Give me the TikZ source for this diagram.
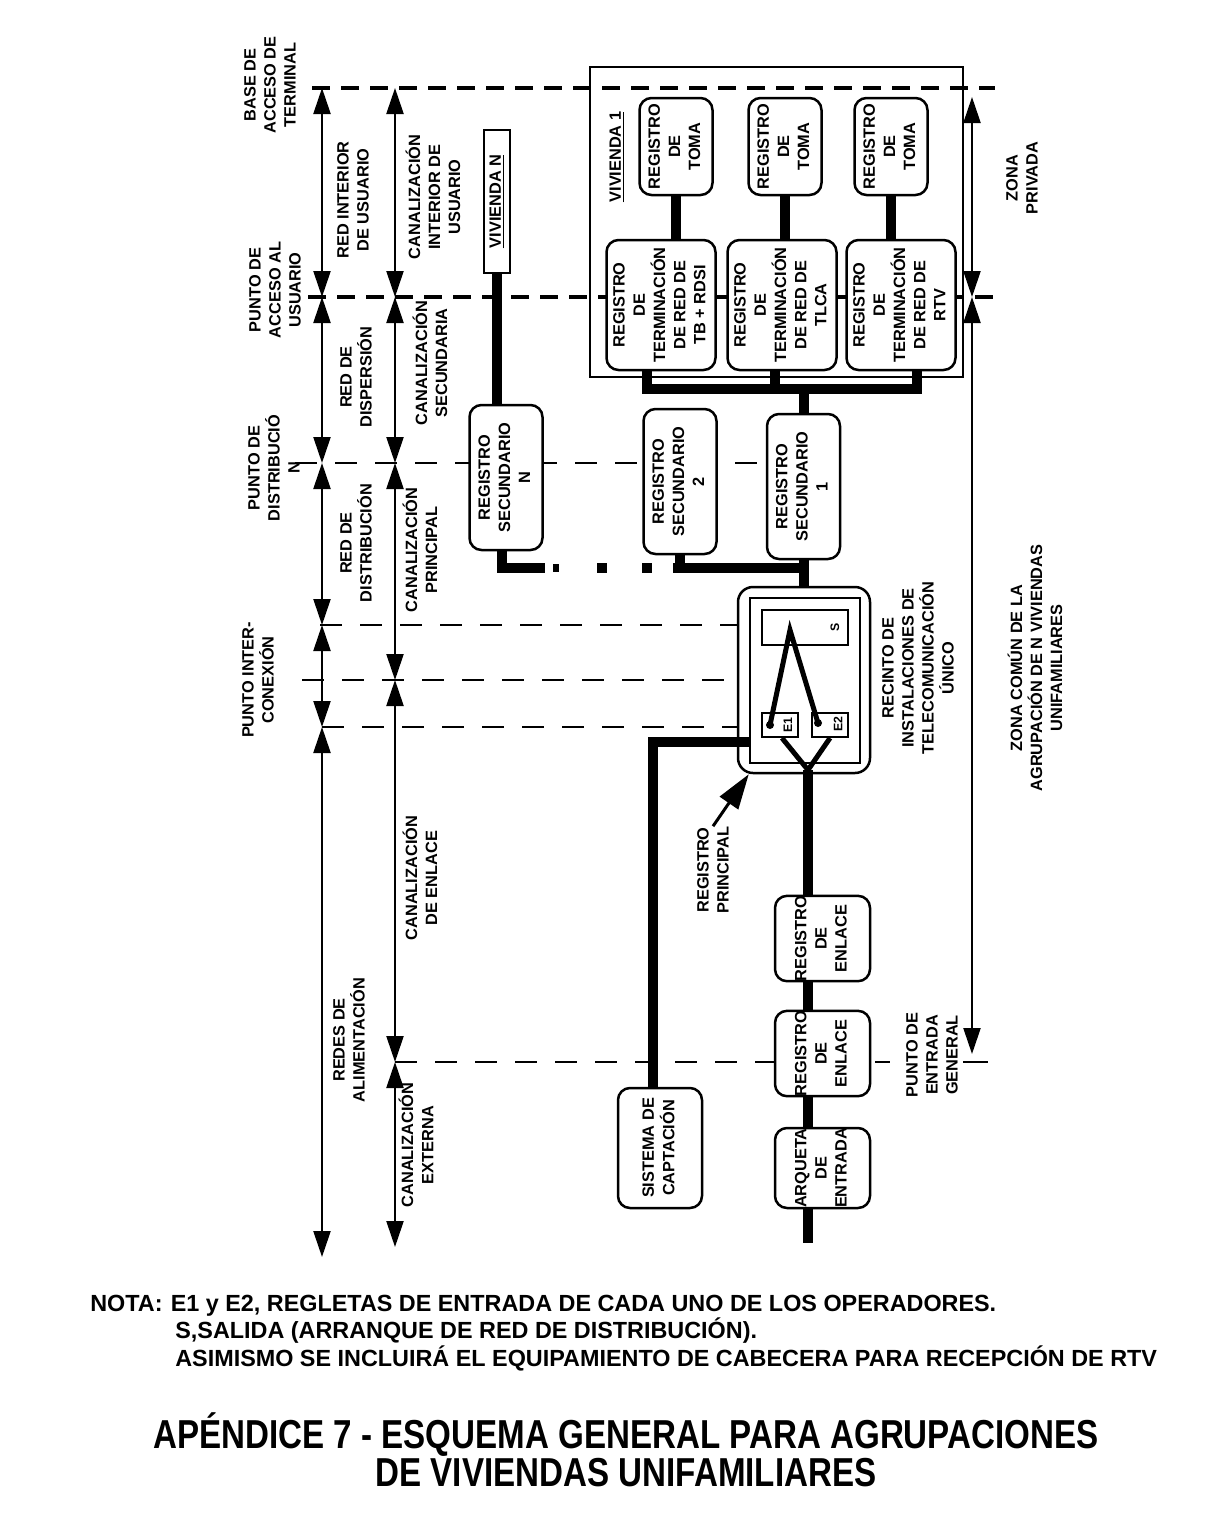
\documentclass[tikz,border=0pt]{standalone}
\usepackage{fontspec}
\setmainfont{Liberation Sans}
\newfontfamily\titlefont[FakeStretch=0.82]{Liberation Sans}
\usepackage{graphicx}
\usetikzlibrary{arrows.meta}
\pgfdeclarelayer{background}
\pgfsetlayers{background,main}

\newcommand{\lblfont}{\fontsize{9.3}{11.4}\selectfont\bfseries}
\newcommand{\efont}{\fontsize{7}{8}\selectfont\bfseries}
\newcommand{\notafont}{\fontsize{13.3}{16}\selectfont\bfseries}
\newcommand{\vt}[1]{\rotatebox{90}{\begin{tabular}{@{}c@{}}#1\end{tabular}}}

\tikzset{
  caja/.style={draw, line width=0.5mm, rounded corners=2.4mm, fill=white, inner sep=0pt, font=\lblfont},
  marco/.style={draw, line width=0.5mm, inner sep=0pt},
  recinto/.style={draw, line width=0.5mm, rounded corners=3mm, inner sep=0pt},
  lbl/.style={rotate=90, align=center, font=\lblfont, inner sep=0pt},
  cable/.style={line width=2mm},
  hilo/.style={line width=1mm},
  nivel/.style={line width=0.7mm, dash pattern=on 3.6mm off 2.2mm},
  nivelfino/.style={line width=0.4mm, dash pattern=on 4.4mm off 3.6mm},
  cota/.style={line width=0.45mm, {Triangle[width=3.4mm,length=5.2mm]}-{Triangle[width=3.4mm,length=5.2mm]}},
  flecha/.style={line width=0.6mm, -{Triangle[width=4.4mm,length=7mm]}},
}

\begin{document}
\begin{tikzpicture}[x=0.2mm, y=-0.2mm]
  \useasboundingbox (0,0) rectangle (1213,1536);

  %vivienda 1
  \node[marco, minimum width=74.6mm, minimum height=62mm] (viv1) at (776.5,222) {};
  \node[lbl] (lblViv1) at (617,157) {\underline{VIVIENDA 1}};
  \foreach \n/\x in {1/676,2/785,3/891}
    \node[caja, minimum width=14.6mm, minimum height=19.4mm] (toma\n) at (\x,146.5) {\vt{REGISTRO\\DE\\TOMA}};
  \node[caja, minimum width=21.8mm, minimum height=26mm] (term1) at (661,305) {\vt{REGISTRO\\DE\\TERMINACIÓN\\DE RED DE\\TB + RDSI}};
  \node[caja, minimum width=21.8mm, minimum height=26mm] (term2) at (782,305) {\vt{REGISTRO\\DE\\TERMINACIÓN\\DE RED DE\\TLCA}};
  \node[caja, minimum width=21.8mm, minimum height=26mm] (term3) at (901,305) {\vt{REGISTRO\\DE\\TERMINACIÓN\\DE RED DE\\RTV}};

  %vivienda N
  \node[marco, fill=white, minimum width=5.2mm, minimum height=28.6mm, font=\lblfont] (vivN) at (497,201.5) {\rotatebox{90}{\underline{VIVIENDA N}}};

  %secundarios
  \node[caja, minimum width=14.6mm, minimum height=29mm] (secN) at (506,477.5) {\vt{REGISTRO\\SECUNDARIO\\N}};
  \node[caja, minimum width=14.6mm, minimum height=29mm] (sec2) at (680,481.5) {\vt{REGISTRO\\SECUNDARIO\\2}};
  \node[caja, minimum width=14.6mm, minimum height=29mm] (sec1) at (803.5,486.5) {\vt{REGISTRO\\SECUNDARIO\\1}};

  %recinto
  \node[recinto, minimum width=26.4mm, minimum height=37.2mm] (rituA) at (804,680) {};
  \node[marco, minimum width=22mm, minimum height=33mm] (rituB) at (805,680.5) {};
  \node[marco, line width=0.4mm, minimum width=17.2mm, minimum height=7mm] (salida) at (805,627.5) {};
  \node[lbl, font=\efont] (lblS) at (835,627) {S};
  \node[marco, line width=0.4mm, minimum width=7.2mm, minimum height=4.8mm] (E1) at (780,725) {};
  \node[marco, line width=0.4mm, minimum width=7.2mm, minimum height=4.8mm] (E2) at (830,725) {};
  \node[lbl, font=\efont] (lblE1) at (788,725) {E1};
  \node[lbl, font=\efont] (lblE2) at (838,724) {E2};

  %enlace y entrada
  \node[caja, minimum width=19mm, minimum height=16.6mm] (enl1) at (822.5,938.5) {\vt{REGISTRO\\DE\\ENLACE}};
  \node[caja, minimum width=19mm, minimum height=16.6mm] (enl2) at (822.5,1053.5) {\vt{REGISTRO\\DE\\ENLACE}};
  \node[caja, minimum width=19mm, minimum height=16mm] (arq) at (822.5,1168) {\vt{ARQUETA\\DE\\ENTRADA}};
  \node[caja, minimum width=16.8mm, minimum height=24mm] (capt) at (660,1148) {\vt{SISTEMA DE\\CAPTACIÓN}};

  %puntos
  \coordinate (apexS) at (790,630);
  \coordinate (dotE1) at (770,725);
  \coordinate (dotE2) at (818,723);
  \coordinate (joinE) at (808,770);
  \coordinate (finE) at (808,1243);

  \begin{pgfonlayer}{background}
    %niveles
    \draw[nivel] (312,88) -- (995,88);
    \draw[nivel] (308,297) -- (995,297);
    \draw[nivelfino] (295,463) -- (767,463);
    \draw[nivelfino] (320,625) -- (738,625);
    \draw[nivelfino] (302,680) -- (738,680);
    \draw[nivelfino] (322,727) -- (738,727);
    \draw[nivelfino] (395,1062) -- (890,1062);
    \draw[line width=0.4mm] (963,1062) -- (988,1062);

    %cables vivienda
    \foreach \n in {1,2,3}
      \draw[cable] (toma\n.south) -- (toma\n.south |- term\n.north);
    \draw[cable] ([xshift=-2.8mm]term1.south) -- ++(0,19);
    \draw[cable] ([xshift=-1.4mm]term2.south) -- ++(0,19);
    \draw[cable] ([xshift=3.2mm]term3.south) -- ++(0,19);
    \draw[cable] (642,389) -- (922,389);
    \draw[cable] (sec1.north |- 0,389) -- (sec1.north);
    \draw[cable] (vivN.south) -- (vivN.south |- secN.north);

    %cables secundarios
    \draw[cable] ([xshift=-0.8mm]secN.south) |- (545,568);
    \fill (553,564) rectangle (559,572);
    \foreach \x in {602,647}
      \fill (\x-5,563) rectangle (\x+5,573);
    \draw[cable] (673,568) -- (sec1.south |- 0,568);
    \draw[cable] (sec2.south) -- (sec2.south |- 0,568);
    \draw[cable] (sec1.south) -- (sec1.south |- rituA.north);

    %cables entrada
    \draw[cable] (joinE) -- (finE);
    \draw[cable] (653,0 |- capt.north) |- (rituB.west |- 0,742);
  \end{pgfonlayer}

  %regletas
  \draw[hilo] (dotE1) -- (apexS) -- (dotE2);
  \fill (dotE1) circle[radius=0.8mm];
  \fill (dotE2) circle[radius=0.8mm];
  \draw[hilo] ([xshift=0.4mm]E1.south) -- (joinE) -- (E2.south);

  %cotas
  \foreach \y [count=\i] in {88,297,463,625,727,1257}
    \coordinate (p1-\i) at (322,\y);
  \foreach \y [count=\i] in {88,297,463,680,1062,1247}
    \coordinate (p2-\i) at (395,\y);
  \foreach \y [count=\i] in {97,297,1054}
    \coordinate (p3-\i) at (972,\y);
  \foreach \a/\b in {1/2,2/3,3/4,4/5,5/6}
  {
    \draw[cota] (p1-\a) -- (p1-\b);
    \draw[cota] (p2-\a) -- (p2-\b);
  }
  \draw[cota] (p3-1) -- (p3-2);
  \draw[cota] (p3-2) -- (p3-3);

  %textos izquierda
  \node[lbl] (lblBase) at (270,85) {BASE DE\\ACCESO DE\\TERMINAL};
  \node[lbl] (lblAcceso) at (275,290) {PUNTO DE\\ACCESO AL\\USUARIO};
  \node[lbl] (lblDistrib) at (274,468) {PUNTO DE\\DISTRIBUCIÓ\\N};
  \node[lbl] (lblInter) at (258,680) {PUNTO INTER-\\CONEXIÓN};
  \node[lbl] (lblRedInt) at (353,200) {RED INTERIOR\\DE USUARIO};
  \node[lbl] (lblRedDisp) at (356,377) {RED DE\\DISPERSIÓN};
  \node[lbl] (lblRedDist) at (356,543) {RED DE\\DISTRIBUCIÓN};
  \node[lbl] (lblRedAlim) at (349,1040) {REDES DE\\ALIMENTACIÓN};
  \node[lbl] (lblCanInt) at (433,197) {CANALIZACIÓN\\INTERIOR DE\\USUARIO};
  \node[lbl] (lblCanSec) at (430,363) {CANALIZACIÓN\\SECUNDARIA};
  \node[lbl] (lblCanPri) at (420,550) {CANALIZACIÓN\\PRINCIPAL};
  \node[lbl] (lblCanEnl) at (420,878) {CANALIZACIÓN\\DE ENLACE};
  \node[lbl] (lblCanExt) at (416,1145) {CANALIZACIÓN\\EXTERNA};

  %textos derecha
  \node[lbl] (lblRecinto) at (918,668) {RECINTO DE\\INSTALACIONES DE\\TELECOMUNICACIÓN\\ÚNICO};
  \node[lbl] (lblPrincipal) at (713,870) {REGISTRO\\PRINCIPAL};
  \draw[flecha] (lblPrincipal.east) -- ([xshift=2.4mm]rituA.south west);
  \node[lbl] (lblEntrada) at (932,1055) {PUNTO DE\\ENTRADA\\GENERAL};
  \node[lbl] (lblPrivada) at (1022,178) {ZONA\\PRIVADA};
  \node[lbl] (lblComun) at (1035,668) {ZONA COMÚN DE LA\\AGRUPACIÓN DE N VIVIENDAS\\UNIFAMILIARES};

  %nota y titulo
  \node[anchor=base west, font=\notafont, inner sep=0pt] (nota1) at (90,1311) {NOTA:\hspace{0.35em}E1 y E2, REGLETAS DE ENTRADA DE CADA UNO DE LOS OPERADORES.};
  \node[anchor=base west, font=\notafont, inner sep=0pt] (nota2) at (175,1338) {S,SALIDA (ARRANQUE DE RED DE DISTRIBUCIÓN).};
  \node[anchor=base west, font=\notafont, inner sep=0pt] (nota3) at (175,1366) {ASIMISMO SE INCLUIRÁ EL EQUIPAMIENTO DE CABECERA PARA RECEPCIÓN DE RTV};
  \node[align=center, inner sep=0pt, font={\titlefont\fontsize{23}{20}\selectfont\bfseries}] (titulo) at (626,1450) {APÉNDICE 7 - ESQUEMA GENERAL PARA AGRUPACIONES\\DE VIVIENDAS UNIFAMILIARES};
\end{tikzpicture}
\end{document}
